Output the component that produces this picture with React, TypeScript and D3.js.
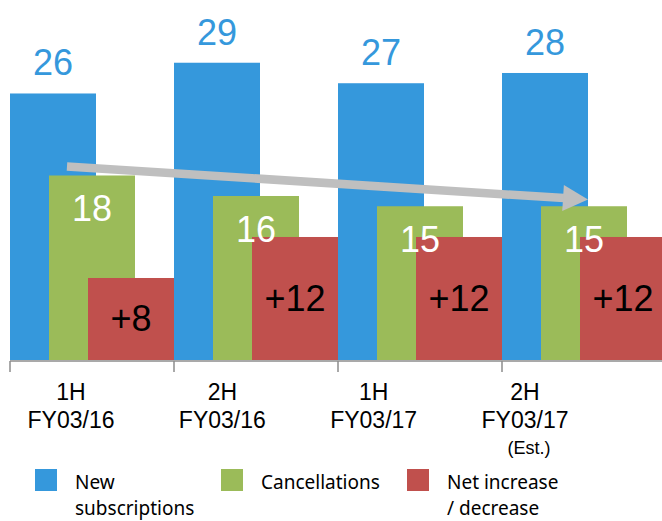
import React from "react";
import * as d3 from "d3";

const categories = ["1H FY03/16", "2H FY03/16", "1H FY03/17", "2H FY03/17"];
const labelLine1 = ["1H", "2H", "1H", "2H"];
const labelLine2 = ["FY03/16", "FY03/16", "FY03/17", "FY03/17"];
const labelLine3 = ["", "", "", "(Est.)"];
const newSubs = [26, 29, 27, 28];
const cancellations = [18, 16, 15, 15];
const netChange = [8, 12, 12, 12];
const seriesNames = ["New subscriptions", "Cancellations", "Net increase / decrease"];
const legendLines = [["New", "subscriptions"], ["Cancellations"], ["Net increase", "/ decrease"]];

const W = 662;
const H = 521;
const BLUE = "#3598dc";
const GREEN = "#9bbb59";
const RED = "#c0504d";
const NUM_FONT = "'Liberation Sans', Arial, sans-serif";
const LEG_FONT = "'Noto Sans', sans-serif";

export default function App() {
  const baseline = 360;
  const y = d3.scaleLinear().domain([0, 35.12]).range([baseline, 0]);
  const x = d3.scaleBand().domain(categories).range([10, 10 + 164 * 4]).paddingInner(0).paddingOuter(0);
  const barW = 86;
  const offs = [0, 39, 78];
  const labelX = d3.scalePoint().domain(categories).range([71, 525]);

  const series = [
    { vals: newSubs, color: BLUE },
    { vals: cancellations, color: GREEN },
    { vals: netChange, color: RED },
  ];

  // arrow
  const ax0 = 67, ay0 = 166.5, ax1 = 588, ay1 = 199.6;
  const ang = Math.atan2(ay1 - ay0, ax1 - ax0);
  const headL = 25, headW = 13;
  const bx = ax1 - headL * Math.cos(ang), by = ay1 - headL * Math.sin(ang);
  const px = -Math.sin(ang), py = Math.cos(ang);

  return (
    <svg width={W} height={H} style={{ position: "absolute", left: 0, top: 0 }}>
      <rect width={W} height={H} fill="#fff" />
      {categories.map((c, i) => (
        <g key={c}>
          {series.map((s, k) => (
            <rect
              key={k}
              x={(x(c) as number) + offs[k]}
              y={y(s.vals[i])}
              width={barW}
              height={baseline - y(s.vals[i])}
              fill={s.color}
            />
          ))}
        </g>
      ))}
      {/* axis */}
      <line x1={10} x2={W} y1={361} y2={361} stroke="#8c8c8c" strokeWidth={1.5} />
      {categories.map((c) => (
        <line key={c} x1={x(c)} x2={x(c)} y1={361} y2={372} stroke="#8c8c8c" strokeWidth={1.5} />
      ))}
      {/* arrow */}
      <line x1={ax0} y1={ay0} x2={bx + 1 * Math.cos(ang)} y2={by + 1 * Math.sin(ang)} stroke="#bfbfbf" strokeWidth={8.5} />
      <path
        d={`M${ax1},${ay1} L${bx + px * headW},${by + py * headW} L${bx - px * headW},${by - py * headW} Z`}
        fill="#bfbfbf"
      />
      {/* value labels */}
      {categories.map((c, i) => {
        const x0 = x(c) as number;
        return (
          <g key={c} fontFamily={NUM_FONT} fontSize={36} textAnchor="middle">
            <text x={x0 + offs[0] + barW / 2} y={y(newSubs[i]) - 18} fill={BLUE}>
              {newSubs[i]}
            </text>
            <text x={x0 + offs[1] + barW / 2} y={y(cancellations[i]) + 46} fill="#fff">
              {cancellations[i]}
            </text>
            <text
              x={x0 + offs[2] + barW / 2}
              y={(y(netChange[i]) + baseline) / 2 + 12.5}
              fill="#000"
            >
              {"+" + netChange[i]}
            </text>
          </g>
        );
      })}
      {/* category labels */}
      {categories.map((c, i) => (
        <g key={c} fontFamily={NUM_FONT} textAnchor="middle" fill="#000">
          <text x={labelX(c)} y={400} fontSize={23}>{labelLine1[i]}</text>
          <text x={labelX(c)} y={428} fontSize={23}>{labelLine2[i]}</text>
          {labelLine3[i] && (
            <text x={labelX(c) as number + 4} y={454} fontSize={18}>{labelLine3[i]}</text>
          )}
        </g>
      ))}
      {/* legend */}
      {seriesNames.map((n, k) => {
        const lx = [35, 221, 407][k];
        return (
          <g key={n}>
            <rect x={lx} y={469} width={22} height={22} fill={series[k].color} />
            {legendLines[k].map((t, j) => (
              <text key={j} x={lx + 40} y={489 + j * 26} fontFamily={LEG_FONT} fontSize={19} fill="#000">
                {t}
              </text>
            ))}
          </g>
        );
      })}
    </svg>
  );
}
